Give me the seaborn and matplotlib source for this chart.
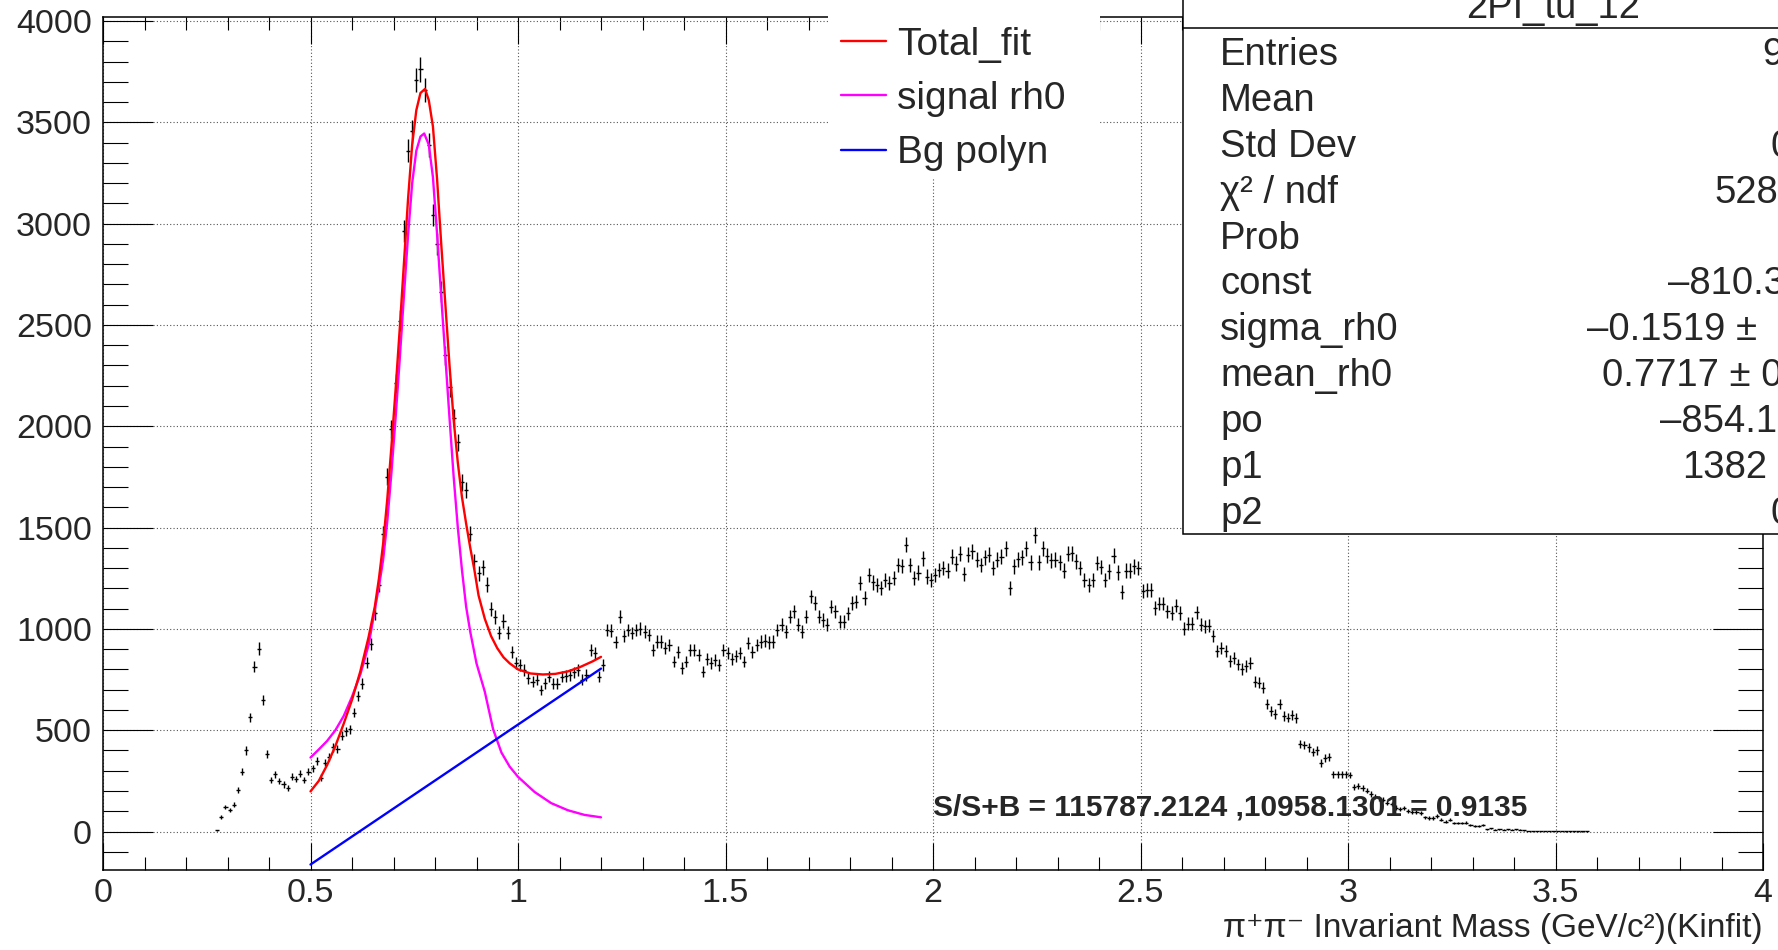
import numpy as np
import pandas as pd
import seaborn as sns
import matplotlib.pyplot as plt
from matplotlib.patches import Rectangle
from matplotlib.lines import Line2D
from matplotlib.ticker import MultipleLocator, FuncFormatter

# histogram, 0.01 GeV bins, first filled bin centred at 0.275
bin_width = 0.01
first_center = 0.275
counts = [
    5, 72, 122, 108, 133, 204, 294, 400, 563, 814,
    903, 648, 382, 253, 283, 250, 232, 214, 271, 258,
    286, 253, 296, 313, 349, 266, 340, 368, 415, 406,
    472, 494, 505, 587, 670, 730, 834, 924, 1078, 1219,
    1470, 1750, 1988, 2213, 2522, 2966, 3361, 3455, 3709, 3762,
    3660, 3387, 3044, 2898, 2663, 2350, 2193, 2041, 1920, 1724,
    1685, 1470, 1333, 1274, 1303, 1219, 1098, 1059, 981, 1039,
    981, 886, 830, 822, 798, 757, 740, 748, 699, 732,
    765, 729, 729, 765, 768, 773, 785, 798, 748, 773,
    896, 883, 765, 822, 995, 992, 934, 1061, 965, 995,
    979, 995, 1000, 987, 970, 896, 937, 937, 905, 921,
    839, 888, 806, 839, 896, 896, 872, 789, 850, 830,
    847, 822, 896, 883, 850, 867, 880, 839, 929, 888,
    921, 937, 942, 933, 937, 995, 1020, 987, 1061, 1086,
    1020, 987, 1061, 1160, 1127, 1061, 1044, 1020, 1110, 1086,
    1036, 1036, 1077, 1127, 1135, 1225, 1151, 1266, 1229, 1217,
    1201, 1242, 1225, 1250, 1316, 1311, 1415, 1316, 1250, 1278,
    1349, 1258, 1240, 1267, 1290, 1300, 1288, 1357, 1321, 1370,
    1272, 1365, 1382, 1341, 1316, 1354, 1365, 1300, 1341, 1357,
    1398, 1202, 1308, 1344, 1354, 1398, 1328, 1464, 1328, 1398,
    1361, 1338, 1341, 1328, 1288, 1370, 1374, 1333, 1300, 1243,
    1218, 1243, 1325, 1305, 1243, 1284, 1361, 1279, 1180, 1288,
    1288, 1308, 1300, 1185, 1193, 1193, 1103, 1125, 1125, 1087,
    1079, 1115, 1079, 1000, 1026, 1026, 1082, 1021, 1013, 1016,
    964, 890, 907, 890, 841, 857, 825, 803, 816, 833,
    738, 734, 710, 628, 595, 579, 628, 571, 562, 574,
    560, 432, 428, 415, 391, 400, 338, 362, 369, 282,
    282, 282, 282, 279, 221, 226, 216, 202, 185, 172,
    164, 156, 143, 136, 118, 110, 115, 103, 98, 98,
    90, 70, 66, 66, 77, 57, 49, 57, 41, 41,
    41, 44, 33, 28, 25, 33, 11, 15, 8, 11,
    8, 10, 8, 10, 8, 5, 3, 2, 2, 2,
    2, 2, 2, 3, 2, 1, 1, 1, 1, 1,
    1,
]

# fit curves
total_x = [0.50, 0.52, 0.54, 0.56, 0.58, 0.60, 0.62, 0.64, 0.655, 0.665,
           0.675, 0.685, 0.695, 0.705, 0.715, 0.725, 0.735, 0.745, 0.755, 0.765,
           0.776, 0.785, 0.795, 0.805, 0.815, 0.825, 0.835, 0.845, 0.855, 0.865,
           0.875, 0.885, 0.895, 0.905, 0.92, 0.935, 0.95, 0.965, 0.98, 1.0,
           1.03, 1.06, 1.09, 1.12, 1.15, 1.18, 1.20]
total_y = [198, 250, 328, 422, 532, 650, 790, 960, 1110, 1250,
           1420, 1640, 1900, 2180, 2480, 2800, 3120, 3390, 3560, 3645,
           3665, 3610, 3480, 3220, 2900, 2600, 2300, 2030, 1820, 1650,
           1520, 1400, 1290, 1165, 1050, 965, 905, 860, 830, 800,
           780, 775, 778, 790, 812, 840, 862]

signal_x = [0.50, 0.52, 0.54, 0.56, 0.58, 0.60, 0.62, 0.64, 0.655, 0.665,
            0.675, 0.685, 0.695, 0.705, 0.715, 0.725, 0.735, 0.745, 0.755, 0.765,
            0.774, 0.785, 0.795, 0.805, 0.815, 0.825, 0.835, 0.845, 0.855, 0.865,
            0.875, 0.885, 0.90, 0.92, 0.94, 0.96, 0.98, 1.00, 1.04, 1.08,
            1.12, 1.16, 1.20]
signal_y = [365, 405, 447, 500, 570, 665, 775, 920, 1095, 1210,
            1340, 1530, 1770, 2040, 2330, 2640, 2940, 3200, 3360, 3430,
            3445, 3390, 3230, 2950, 2640, 2340, 2040, 1750, 1500, 1290,
            1110, 985, 830, 690, 505, 390, 320, 270, 195, 140,
            105, 82, 70]

bg_x = [0.5, 1.2]
bg_y = [-163, 804]

stat_names = ["Entries", "Mean", "Std Dev", "χ² / ndf", "Prob", "const",
              "sigma_rh0", "mean_rh0", "po", "p1", "p2"]
stat_values = ["9", "", "0", "528", "", "–810.3", "–0.1519 ±",
               "0.7717 ± 0", "–854.1", "1382", "0"]
stat_value_left = [1762, 1778, 1770, 1714, 1778, 1668, 1587, 1602, 1660, 1682, 1770]

W, H = 1778, 950

sns.set_style("ticks")
plt.rcParams['font.family'] = ['Liberation Sans', 'DejaVu Sans']

fig = plt.figure(figsize=(W / 100, H / 100), dpi=100)
ax = fig.add_axes([103 / W, 1 - 870 / H, 1660 / W, 853 / H])

centers = first_center + bin_width * np.arange(len(counts))
ax.errorbar(centers, counts, yerr=np.sqrt(counts), xerr=bin_width / 2,
            fmt='none', ecolor='black', elinewidth=1.0, capsize=0, zorder=3)

sns.lineplot(x=total_x, y=total_y, color='#ff0000', lw=1.7, ax=ax,
             label='Total_fit', zorder=5)
sns.lineplot(x=signal_x, y=signal_y, color='#ff00ff', lw=1.7, ax=ax,
             label='signal rh0', zorder=4)
sns.lineplot(x=bg_x, y=bg_y, color='#0000ff', lw=1.7, ax=ax,
             label='Bg polyn', zorder=4)

ax.set_xlim(0, 4)
ax.set_ylim(-190, 4020)
ax.xaxis.set_major_locator(MultipleLocator(0.5))
ax.xaxis.set_minor_locator(MultipleLocator(0.1))
ax.yaxis.set_major_locator(MultipleLocator(500))
ax.yaxis.set_minor_locator(MultipleLocator(100))
ax.xaxis.set_major_formatter(FuncFormatter(lambda v, p: f"{v:g}"))
ax.tick_params(which='both', direction='in', top=True, right=True,
               width=0.8, color='black')
ax.tick_params(axis='x', which='major', length=19.5, pad=6, labelsize=24.5)
ax.tick_params(axis='x', which='minor', length=9.5)
ax.tick_params(axis='y', which='major', length=36, pad=8, labelsize=24.5)
ax.tick_params(axis='y', which='minor', length=18)
ax.set_xlabel('')
ax.set_ylabel('')
ax.grid(True, which='major', linestyle=(0, (1, 2)), color='#555555', lw=0.8)
ax.set_axisbelow(True)
for sp in ax.spines.values():
    sp.set_linewidth(1.1)
    sp.set_color('black')

ax.text(2.0, 80, "S/S+B = 115787.2124 ,10958.1301 = 0.9135", fontsize=21.5,
        fontweight='bold', ha='left', va='baseline', zorder=6)

# legend
handles, labels = ax.get_legend_handles_labels()
ax.get_legend().remove()
fig.add_artist(Rectangle((828 / W, 1 - 178 / H), 272 / W, 178 / H + 0.02,
                         transform=fig.transFigure, facecolor='white',
                         edgecolor='none', zorder=2))
fig.legend(handles, labels, loc='upper left', bbox_to_anchor=(828 / W, 1 - 14 / H),
           frameon=False, fontsize=28, handlelength=1.16, handletextpad=0.28,
           labelspacing=0.47, borderpad=0.33, borderaxespad=0)

# stats box
fig.add_artist(Rectangle((1183 / W, 1 - 534 / H), 900 / W, 600 / H,
                         transform=fig.transFigure, facecolor='white',
                         edgecolor='black', lw=1.1, zorder=2))
fig.add_artist(Line2D([1183 / W, 1.2], [1 - 28 / H, 1 - 28 / H],
                      transform=fig.transFigure, color='black', lw=1.1, zorder=3))
fig.text(1553 / W, 1 - 18 / H, "2PI_tu_12", ha='center', va='baseline',
         fontsize=27.5, zorder=4)
for i, (name, val, vx) in enumerate(zip(stat_names, stat_values, stat_value_left)):
    yb = 1 - (65 + 45.9 * i) / H
    fig.text(1220 / W, yb, name, ha='left', va='baseline', fontsize=27.5, zorder=4)
    if val:
        fig.text(vx / W, yb, val, ha='left', va='baseline', fontsize=27.5, zorder=4)

fig.text(1763 / W, 1 - 937 / H, "π⁺π⁻ Invariant Mass (GeV/c²)(Kinfit)",
         ha='right', va='baseline', fontsize=24)

fig.savefig('out.png', dpi=100)
